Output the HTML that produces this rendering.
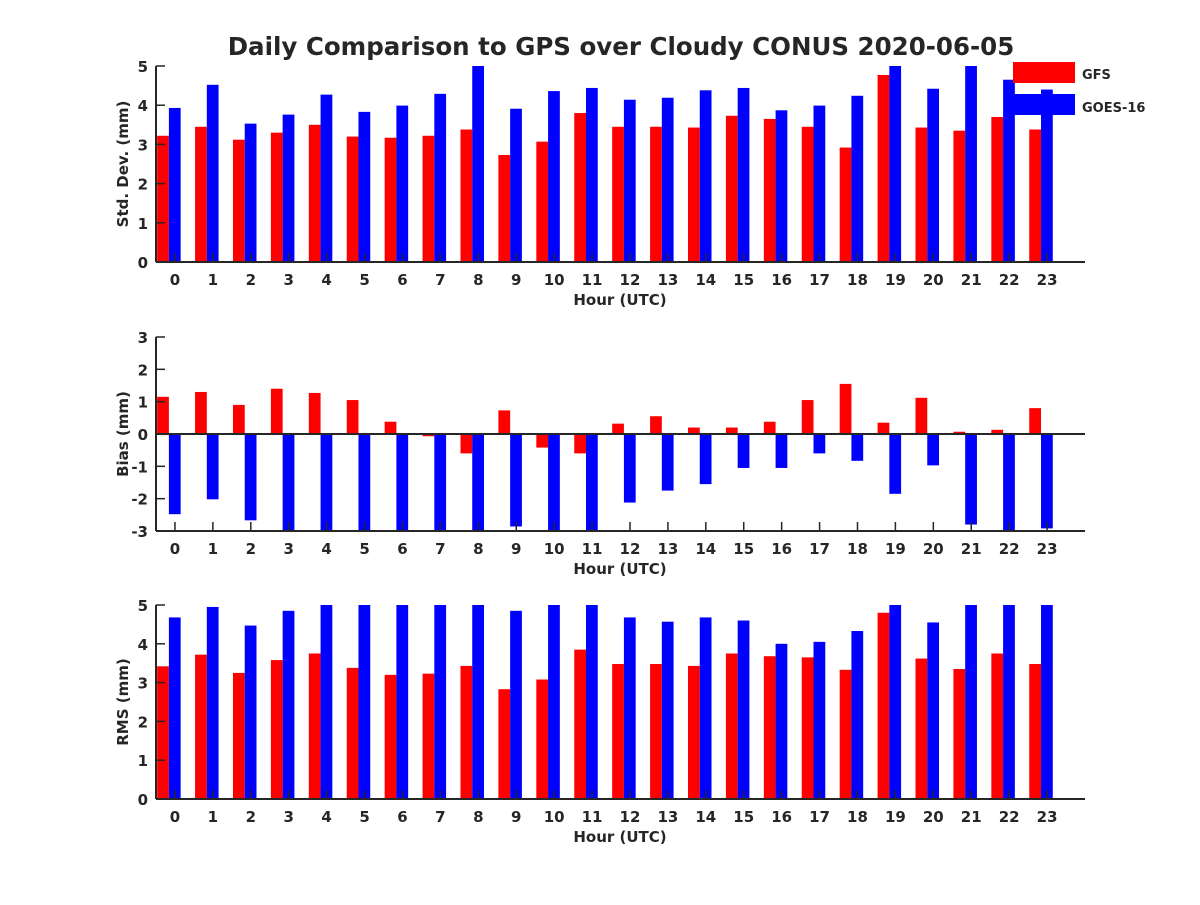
<!DOCTYPE html>
<html><head><meta charset="utf-8"><style>
html,body{margin:0;padding:0;background:#fff;}
svg text{font-family:"DejaVu Sans","Liberation Sans",sans-serif;font-weight:bold;fill:#262626;}
</style></head><body>
<svg id="chart" width="1200" height="900" xmlns="http://www.w3.org/2000/svg">
<rect width="1200" height="900" fill="#fff"/>
<text x="621" y="55" font-size="24.5" text-anchor="middle">Daily Comparison to GPS over Cloudy CONUS 2020-06-05</text>
<g id="plots"></g>
<g>
<rect x="1013" y="62" width="62" height="21" fill="#ff0000"/>
<text x="1082" y="79" font-size="13">GFS</text>
<rect x="1008" y="94" width="67" height="21" fill="#0000ff"/>
<text x="1082" y="112" font-size="13">GOES-16</text>
</g>
</svg>
<script>
const hours = [0,1,2,3,4,5,6,7,8,9,10,11,12,13,14,15,16,17,18,19,20,21,22,23];
const stdGFS = [3.22,3.45,3.12,3.3,3.5,3.2,3.17,3.22,3.38,2.73,3.07,3.8,3.45,3.45,3.43,3.73,3.65,3.45,2.92,4.77,3.43,3.35,3.7,3.38];
const stdGOES = [3.93,4.52,3.53,3.76,4.27,3.83,3.99,4.29,5.2,3.91,4.36,4.44,4.14,4.19,4.38,4.44,3.87,3.99,4.24,5.3,4.42,5.2,4.65,4.4];
const biasGFS = [1.15,1.3,0.9,1.4,1.27,1.05,0.38,-0.07,-0.6,0.73,-0.42,-0.6,0.32,0.55,0.2,0.2,0.38,1.05,1.55,0.35,1.12,0.07,0.13,0.8];
const biasGOES = [-2.48,-2.02,-2.67,-3.3,-3.4,-3.2,-3.3,-3.5,-3.6,-2.86,-3.3,-3.4,-2.12,-1.75,-1.55,-1.05,-1.05,-0.6,-0.83,-1.85,-0.97,-2.8,-3.2,-2.92];
const rmsGFS = [3.42,3.72,3.25,3.58,3.75,3.38,3.2,3.23,3.43,2.83,3.08,3.85,3.48,3.48,3.43,3.75,3.68,3.65,3.33,4.8,3.62,3.35,3.75,3.48];
const rmsGOES = [4.68,4.95,4.47,4.85,5.3,5.4,5.2,5.3,5.5,4.85,5.3,5.4,4.68,4.57,4.68,4.6,4.0,4.05,4.33,5.5,4.55,5.4,5.5,5.3];
const stdTicks = [0,1,2,3,4,5];
const biasTicks = [-3,-2,-1,0,1,2,3];
const rmsTicks = [0,1,2,3,4,5];

const NS='http://www.w3.org/2000/svg';
const root=document.getElementById('plots');
function mk(tag,attrs,parent){const e=document.createElementNS(NS,tag);for(const k in attrs)e.setAttribute(k,attrs[k]);(parent||root).appendChild(e);return e;}
const X0=156,X1=1085,xmin=-0.5,xmax=24;
function xs(v){return X0+(v-xmin)/(xmax-xmin)*(X1-X0);}
const bw=0.31, shift=-0.16;

function panel(key,top,bot,ymin,ymax,ticks,s1,s2,ylabel){
  const g=mk('g',{});
  
  
  const ys=v=>bot-(v-ymin)/(ymax-ymin)*(bot-top);
  const clip=v=>Math.max(ymin,Math.min(ymax,v));
  const base=ys(Math.max(ymin,Math.min(ymax,0)));
  hours.forEach((h,i)=>{
    [[s1,'#ff0000',-bw,'gfs'],[s2,'#0000ff',0,'goes16']].forEach(([s,c,off,nm])=>{
      const v=clip(s[i]);const y=ys(v);
      const r=mk('rect',{x:xs(h+off+shift),y:Math.min(y,base),width:xs(bw)-xs(0),height:Math.abs(base-y),fill:c},g);
      
      
    });
  });
  const ax=mk('g',{},g);
  
  
  mk('line',{x1:X0,y1:top,x2:X0,y2:bot,stroke:'#262626','stroke-width':2},ax);
  mk('line',{x1:X0,y1:bot,x2:X1,y2:bot,stroke:'#262626','stroke-width':2},ax);
  if(ymin<0) mk('line',{x1:X0,y1:ys(0),x2:X1,y2:ys(0),stroke:'#262626','stroke-width':2},ax);
  ticks.forEach(t=>{
    mk('line',{x1:X0,y1:ys(t),x2:X0+9,y2:ys(t),stroke:'#262626','stroke-width':1.5},ax);
    const tx=mk('text',{x:X0-8,y:ys(t)+6,'font-size':15,'text-anchor':'end'},ax);
    tx.textContent=t;
    
    
  });
  hours.forEach(h=>{
    mk('line',{x1:xs(h),y1:bot,x2:xs(h),y2:bot-9,stroke:'#262626','stroke-width':1.5},ax);
    const tx=mk('text',{x:xs(h),y:bot+23,'font-size':15,'text-anchor':'middle'},ax);
    tx.textContent=h;
    
    
  });
  const xl=mk('text',{x:620,y:bot+43,'font-size':15,'text-anchor':'middle'},ax);
  xl.textContent='Hour (UTC)';
  
  
  const cy=(top+bot)/2;
  const yl=mk('text',{x:128,y:cy,'font-size':15,'text-anchor':'middle',transform:'rotate(-90 128 '+cy+')'},ax);
  yl.textContent=ylabel;
  
  
}
panel('std',66,262,0,5,stdTicks,stdGFS,stdGOES,'Std. Dev. (mm)');
panel('bias',337,531,-3,3,biasTicks,biasGFS,biasGOES,'Bias (mm)');
panel('rms',605,799,0,5,rmsTicks,rmsGFS,rmsGOES,'RMS (mm)');
</script>
</body></html>
